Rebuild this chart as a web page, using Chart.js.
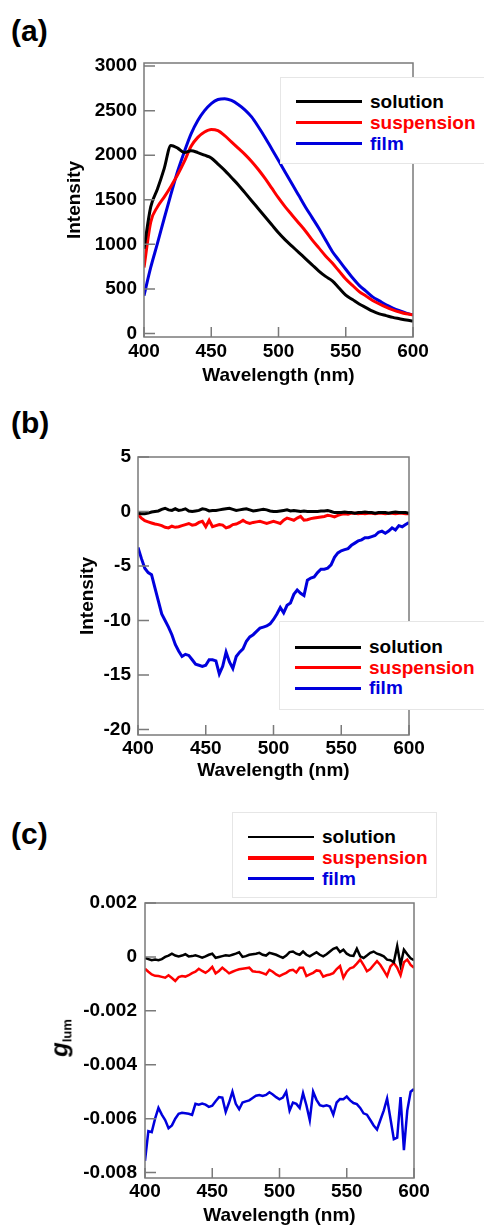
<!DOCTYPE html>
<html>
<head>
<meta charset="utf-8">
<title>Emission spectra</title>
<script src="https://cdn.jsdelivr.net/npm/chart.js@4.4.0/dist/chart.umd.min.js"></script>
<style>
  html, body { margin: 0; padding: 0; background: #fff; overflow: hidden; }
  body { width: 484px; height: 1225px; position: relative; font-family: "Liberation Sans", Arial, sans-serif; font-weight: bold; color: #000; }
  canvas { position: absolute; left: 0; }
  .tag { position: absolute; left: 11px; font-size: 30px; line-height: 30px; }
  .legend { position: absolute; background: #fff; border: 1px solid #e6e6e6; box-sizing: border-box; }
  .legend .row { display: flex; align-items: center; font-size: 19px; }
  .legend .swatch { width: 66px; margin-right: 8px; }
  .ytitle { position: absolute; transform: translate(-50%, -50%) rotate(-90deg); white-space: nowrap; }
</style>
</head>
<body>
<div class="tag" style="top:16px">(a)</div>
<div class="tag" style="top:408px">(b)</div>
<div class="tag" style="top:819px">(c)</div>

<canvas id="chart-a" width="484" height="400" style="top:0"></canvas>
<canvas id="chart-b" width="484" height="400" style="top:400px"></canvas>
<canvas id="chart-c" width="484" height="445" style="top:800px"></canvas>

<div class="ytitle" style="left:60px; top:1038px"><i style="font-size:24px">g</i><sub style="font-size:13px">lum</sub></div>

<script>
const seriesNames = ["solution", "suspension", "film"];
const seriesColors = ["#000000", "#ff0000", "#0000dd"];
const xTicks = [400, 450, 500, 550, 600];

// (a) emission, 5 nm steps
const wlA = [400, 405, 410, 415, 420, 425, 430, 435, 440, 445, 450, 455, 460, 465, 470, 475, 480, 485, 490, 495,
  500, 505, 510, 515, 520, 525, 530, 535, 540, 545, 550, 555, 560, 565, 570, 575, 580, 585, 590, 595, 600];
const solutionA = [950, 1420, 1620, 1850, 2110, 2080, 2030, 2050, 2030, 2000, 1970, 1900, 1830, 1750, 1670, 1580, 1490, 1400, 1310, 1220,
  1130, 1050, 980, 910, 840, 770, 700, 640, 590, 510, 430, 380, 330, 290, 250, 220, 200, 180, 165, 150, 140];
const suspensionA = [740, 1250, 1420, 1530, 1650, 1780, 1930, 2100, 2200, 2260, 2290, 2275, 2220, 2150, 2080, 2010, 1930, 1840, 1740, 1630,
  1520, 1420, 1330, 1240, 1150, 1050, 960, 870, 790, 700, 610, 540, 470, 420, 370, 330, 295, 265, 240, 220, 210];
const filmA = [424, 740, 1010, 1290, 1560, 1820, 2040, 2240, 2390, 2500, 2580, 2625, 2635, 2615, 2570, 2510, 2430, 2320, 2200, 2070,
  1940, 1810, 1680, 1550, 1420, 1300, 1180, 1050, 920, 820, 720, 625, 540, 475, 410, 365, 320, 285, 255, 228, 208];
const yTicksA = [0, 500, 1000, 1500, 2000, 2500, 3000];

// (b) and (c) share a 2.5 nm grid
const wlBC = [400, 402.5, 405, 407.5, 410, 412.5, 415, 417.5, 420, 422.5, 425, 427.5, 430, 432.5, 435, 437.5, 440, 442.5, 445, 447.5,
  450, 452.5, 455, 457.5, 460, 462.5, 465, 467.5, 470, 472.5, 475, 477.5, 480, 482.5, 485, 487.5, 490, 492.5, 495, 497.5,
  500, 502.5, 505, 507.5, 510, 512.5, 515, 517.5, 520, 522.5, 525, 527.5, 530, 532.5, 535, 537.5, 540, 542.5, 545, 547.5,
  550, 552.5, 555, 557.5, 560, 562.5, 565, 567.5, 570, 572.5, 575, 577.5, 580, 582.5, 585, 587.5, 590, 592.5, 595, 597.5, 600];

const solutionB = [-0.15, -0.2, -0.2, -0.15, -0.05, 0, 0.05, 0.2, 0.3, 0.15,
  0.1, 0.25, 0.1, 0.15, 0.25, 0.05, 0, 0.05, 0.1, 0.25,
  0.2, 0.05, 0.1, 0.1, 0.15, 0.2, 0.25, 0.3, 0.2, 0.1,
  0.15, 0.2, 0.25, 0.15, 0.05, 0.1, 0.15, 0.2, 0.15, 0.05,
  0, 0, 0.05, 0.1, 0.15, 0.05, 0.1, 0.05, 0, 0.05,
  0, 0, 0, 0, 0.05, 0.05, 0.1, 0, -0.1, -0.1,
  -0.1, -0.05, -0.1, -0.1, -0.15, -0.1, -0.1, -0.05, -0.1, -0.1,
  -0.15, -0.1, -0.1, -0.1, -0.15, -0.1, -0.05, -0.1, -0.1, -0.1, -0.15];
const suspensionB = [-0.3, -0.6, -0.85, -0.95, -1.05, -1.15, -1.2, -1.3, -1.45, -1.5,
  -1.35, -1.45, -1.4, -1.3, -1.2, -1.1, -1.25, -1.2, -1.0, -0.9,
  -1.4, -0.8, -1.4, -1.3, -1.2, -1.25, -1.5, -1.4, -1.2, -1.15,
  -1.0, -0.8, -1.0, -1.1, -1.0, -0.95, -0.9, -1.0, -1.1, -1.0,
  -0.9, -1.0, -1.1, -0.8, -0.6, -0.7, -0.8, -0.6, -0.45, -0.8,
  -0.75, -0.65, -0.6, -0.55, -0.5, -0.45, -0.35, -0.4, -0.5, -0.35,
  -0.25, -0.2, -0.25, -0.15, -0.15, -0.2, -0.15, -0.2, -0.15, -0.15,
  -0.2, -0.15, -0.15, -0.2, -0.15, -0.15, -0.2, -0.15, -0.15, -0.2, -0.2];
const filmB = [-3.3, -4.3, -5.2, -5.6, -5.8, -7.0, -8.2, -9.4, -10.0, -10.6,
  -11.3, -12.2, -12.8, -13.3, -13.1, -13.2, -13.6, -14.0, -14.1, -14.2,
  -14.1, -13.6, -13.6, -13.7, -14.9, -14.2, -12.9, -13.8, -14.4, -13.3,
  -12.9, -12.6, -11.9, -11.5, -11.3, -11.0, -10.7, -10.6, -10.5, -10.3,
  -9.9, -9.4, -8.8, -9.3, -8.6, -8.4, -7.6, -7.2, -7.5, -7.7,
  -6.3, -6.1, -6.0, -5.6, -5.3, -5.3, -5.2, -4.9, -4.2, -3.8,
  -3.6, -3.5, -3.4, -3.1, -2.9, -2.7, -2.6, -2.4, -2.4, -2.3,
  -2.2, -1.9, -1.8, -2.0, -1.8, -1.5, -1.7, -1.3, -1.4, -1.2, -1.0];
const yTicksB = [-20, -15, -10, -5, 0, 5];

const solutionC = [-0.00004, -0.00008, -0.00012, -0.0001, -0.00012, -0.00008, 0, 0.00005, 0.00012, 0.00005,
  0.00002, 0.00005, 0.0001, 0.00002, 0.00003, 0.00006, 0.00002, -0.00003, 0.00002, 0.00008,
  0.00012, -0.00003, 0, 0.00003, 0.00006, 0.00004, 0.00008, 0.00012, 0.00017, 0,
  0.00003, 0.00008, 0.0001, 0.00012, 0.00015, 0.00008, 0.00005, 0.00015, 0.00012, 0.00008,
  0.00002, -0.00003, 0.00005, 0.00018, 0.0002, 0.00012, 0.00008, 0.0002, 0.00008, 0.00002,
  0.0001, 0.00017, 0.00008, 0.00002, 0.0001, 0.0002, 0.0003, 0.00035, 0.00018, 0.00027,
  0.00012, 0.00005, 0.00004, 0.0003, 0.00002, -0.00004, 0.00005, 0.00015, 0.0002, 0.00012,
  0.00008, 0.00002, -0.0001, -0.00012, -0.0002, 0.0004, -0.0003, 0.00027, 0.0001, -0.00005, -0.00012];
const suspensionC = [-0.00044, -0.00055, -0.00065, -0.0007, -0.00071, -0.00074, -0.00077, -0.00068, -0.00078, -0.00089,
  -0.00075, -0.00071, -0.00073, -0.00068, -0.0006, -0.00055, -0.00044, -0.00052, -0.00059, -0.0005,
  -0.00037, -0.00061, -0.00052, -0.0004, -0.0005, -0.00061, -0.00055, -0.0005, -0.00046, -0.00044,
  -0.00042, -0.0004, -0.00053, -0.00055, -0.00056, -0.0006, -0.00065, -0.00048, -0.00055, -0.00065,
  -0.00071, -0.00065, -0.00059, -0.0005, -0.00048, -0.00058, -0.0004, -0.0004, -0.00071, -0.00065,
  -0.00059, -0.0005, -0.00052, -0.00073, -0.00068, -0.00065, -0.0006, -0.00045, -0.00034, -0.00077,
  -0.00055, -0.00042, -0.00038, -0.00025, -0.0001, -0.0003, -0.00053, -0.00045, -0.0003, -0.00016,
  -0.0003, -0.0005, -0.00071, -0.00035, -0.00022, -0.0004, -0.00068, -0.0002, -0.0001, -0.0003, -0.0004];
const filmC = [-0.00756, -0.00646, -0.0065, -0.006, -0.0056, -0.00585, -0.00605, -0.00635, -0.00625, -0.006,
  -0.00582, -0.00578, -0.0058, -0.00582, -0.00586, -0.00545, -0.00548, -0.00544, -0.00548, -0.00556,
  -0.00552, -0.00535, -0.0052, -0.00522, -0.00575, -0.0054, -0.005, -0.00545, -0.00565, -0.0054,
  -0.00536, -0.00532, -0.00523, -0.00515, -0.00512, -0.00516, -0.00512, -0.00502, -0.0051, -0.0052,
  -0.00528, -0.00522, -0.005, -0.0057, -0.0054, -0.00545, -0.0056, -0.00505, -0.0055, -0.00605,
  -0.005, -0.0053, -0.0055, -0.00554, -0.0055, -0.00555, -0.00585, -0.0054, -0.00527, -0.00528,
  -0.00518, -0.00532, -0.00542, -0.00546, -0.0056, -0.0058, -0.00585, -0.00605, -0.00625, -0.0064,
  -0.00605, -0.0057, -0.00525, -0.006, -0.00676, -0.0067, -0.0052, -0.00717, -0.0057, -0.005, -0.0049];
const yTicksC = [-0.008, -0.006, -0.004, -0.002, 0, 0.002];

const tickFont = { family: "'Liberation Sans', Arial, sans-serif", size: 19, weight: "bold" };
const titleFont = { family: "'Liberation Sans', Arial, sans-serif", size: 19, weight: "bold" };

// box around the plot plus short inward tick marks
const frameTicks = {
  id: "frameTicks",
  afterDatasetsDraw(chart) {
    const { ctx, chartArea: a, scales: { x, y } } = chart;
    ctx.save();
    ctx.strokeStyle = "#7a7a7a";
    ctx.lineWidth = 1.5;
    ctx.strokeRect(a.left, a.top, a.right - a.left, a.bottom - a.top);
    ctx.beginPath();
    x.ticks.forEach(t => {
      const px = x.getPixelForValue(t.value);
      ctx.moveTo(px, a.bottom);
      ctx.lineTo(px, a.bottom - 10);
    });
    y.ticks.forEach(t => {
      const py = y.getPixelForValue(t.value);
      ctx.moveTo(a.left, py);
      ctx.lineTo(a.left + 11, py);
    });
    ctx.stroke();
    ctx.restore();
  }
};

function makeChart(id, cfg) {
  return new Chart(document.getElementById(id), {
    type: "line",
    data: {
      datasets: cfg.series.map((vals, i) => ({
        label: seriesNames[i],
        data: cfg.wl.map((w, j) => ({ x: w, y: vals[j] })),
        borderColor: seriesColors[i],
        borderWidth: cfg.lineWidth,
        pointRadius: 0,
        tension: cfg.tension,
        cubicInterpolationMode: cfg.tension ? "monotone" : "default",
        fill: false
      }))
    },
    options: {
      responsive: false,
      animation: false,
      events: [],
      layout: { padding: { top: cfg.area.top, right: 484 - cfg.area.right, left: 0, bottom: 0 } },
      plugins: { legend: { display: false }, tooltip: { enabled: false } },
      scales: {
        x: {
          type: "linear", min: 400, max: 600,
          afterBuildTicks: s => { s.ticks = xTicks.map(v => ({ value: v })); },
          afterFit: s => { s.height = cfg.height - cfg.area.bottom; },
          grid: { display: false, drawTicks: false },
          border: { display: false },
          ticks: { color: "#000", font: tickFont, padding: cfg.xTickPad, maxRotation: 0, autoSkip: false, callback: v => String(v) },
          title: { display: true, text: "Wavelength (nm)", color: "#000", font: titleFont, padding: { top: 0, bottom: cfg.xTitlePad } }
        },
        y: {
          type: "linear", min: cfg.yMin, max: cfg.yMax,
          afterBuildTicks: s => { s.ticks = cfg.yTicks.map(v => ({ value: v })); },
          afterFit: s => { s.width = cfg.area.left; },
          grid: { display: false, drawTicks: false },
          border: { display: false },
          ticks: { color: "#000", font: tickFont, padding: cfg.yTickPad, autoSkip: false, callback: v => String(v) },
          title: { display: !!cfg.yTitle, text: cfg.yTitle || "", color: "#000", font: titleFont, padding: { top: cfg.yTitlePad || 0, bottom: 0 } }
        }
      }
    },
    plugins: [frameTicks]
  });
}

function buildLegend(cfg) {
  const box = document.createElement("div");
  box.className = "legend";
  Object.assign(box.style, {
    left: cfg.left + "px", top: cfg.top + "px",
    width: cfg.width + "px", height: cfg.height + "px",
    paddingTop: cfg.padTop + "px", paddingLeft: cfg.padLeft + "px"
  });
  seriesNames.forEach((name, i) => {
    const row = document.createElement("div");
    row.className = "row";
    row.style.height = cfg.rowH + "px";
    const sw = document.createElement("span");
    sw.className = "swatch";
    sw.style.height = cfg.lineW[i] + "px";
    sw.style.background = seriesColors[i];
    const txt = document.createElement("span");
    txt.textContent = name;
    txt.style.color = seriesColors[i];
    row.appendChild(sw);
    row.appendChild(txt);
    box.appendChild(row);
  });
  document.body.appendChild(box);
}

makeChart("chart-a", {
  wl: wlA, series: [solutionA, suspensionA, filmA], lineWidth: 3, tension: 0.4,
  area: { left: 144, right: 413, top: 63, bottom: 337 }, height: 400,
  yMin: -40, yMax: 3035, yTicks: yTicksA, yTitle: "Intensity",
  xTickPad: 3, xTitlePad: 13, yTickPad: 7, yTitlePad: 63
});

makeChart("chart-b", {
  wl: wlBC, series: [solutionB, suspensionB, filmB], lineWidth: 3, tension: 0,
  area: { left: 138, right: 409, top: 57, bottom: 335 }, height: 400,
  yMin: -20.5, yMax: 5, yTicks: yTicksB, yTitle: "Intensity",
  xTickPad: 2, xTitlePad: 18, yTickPad: 7, yTitlePad: 76
});

makeChart("chart-c", {
  wl: wlBC, series: [solutionC, suspensionC, filmC], lineWidth: 2.5, tension: 0,
  area: { left: 145, right: 414, top: 103, bottom: 378 }, height: 445,
  yMin: -0.0082, yMax: 0.002, yTicks: yTicksC, yTitle: null,
  xTickPad: 2, xTitlePad: 18, yTickPad: 8
});

buildLegend({ left: 280, top: 77, width: 210, height: 87, padTop: 13, padLeft: 15, rowH: 21, lineW: [3, 3, 2.5] });
buildLegend({ left: 279, top: 621, width: 210, height: 89, padTop: 15, padLeft: 15, rowH: 20.5, lineW: [3.5, 3, 3] });
buildLegend({ left: 232, top: 812, width: 205, height: 86, padTop: 13, padLeft: 15, rowH: 21, lineW: [2, 4, 2.5] });
</script>
</body>
</html>
